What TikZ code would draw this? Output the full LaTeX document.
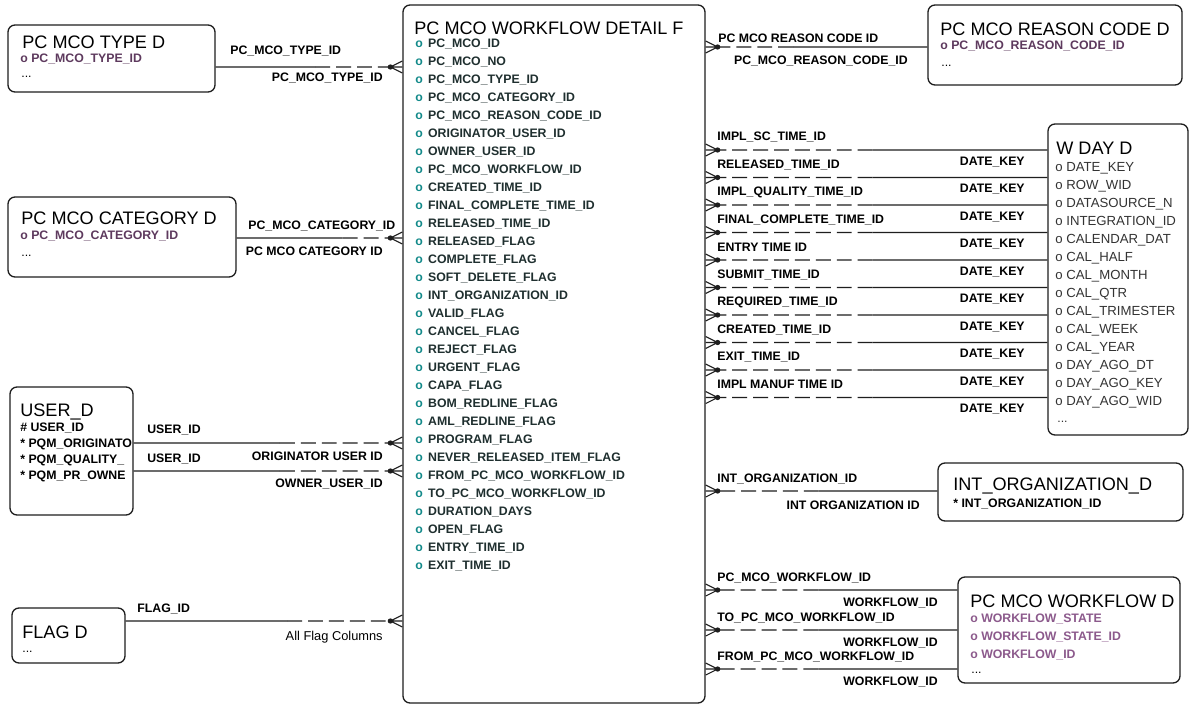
\documentclass[tikz,border=0pt]{standalone}
\usepackage{fontspec}
\setmainfont{Liberation Sans}
\usetikzlibrary{positioning,calc,fit}
\definecolor{edgeink}{HTML}{1E1E1E}
\definecolor{keyteal}{HTML}{138A8A}
\definecolor{colink}{HTML}{1F2F2F}
\definecolor{dimplum}{HTML}{5E3A5E}
\definecolor{softplum}{HTML}{8C5A8C}
\definecolor{dayink}{HTML}{333333}
\tikzset{
  tblbox/.style={draw=edgeink, line width=0.75pt, rounded corners=4pt, inner sep=0pt, fill=white},
  tblname/.style={anchor=west, inner sep=0pt, font=\fontsize{10.3}{12}\selectfont},
  colname/.style={anchor=west, inner sep=0pt, font=\fontsize{7}{8}\selectfont\bfseries},
  dayname/.style={anchor=west, inner sep=0pt, text=dayink, font=\fontsize{7.5}{9}\selectfont},
  lbl/.style={inner sep=0pt, font=\fontsize{7}{8}\selectfont\bfseries},
  rel/.style={draw=edgeink, line width=0.6pt},
  reldash/.style={rel, dash pattern=on 8.5pt off 3.4pt},
  crowfoot/.pic={\draw[rel] (0,-6) -- (-12,0) -- (0,6) (0,0) -- (-12,0);
    \fill[edgeink] (-12,0) circle (1.5pt);}
}
\newcommand\fk[3][0.5]{%
  \draw[rel] #2 -- ($#2!#1!#3$);
  \draw[reldash] ($#2!#1!#3$) -- #3;}

\begin{document}
\catcode`\_=12
\begin{tikzpicture}[x=0.02cm, y=-0.02cm]
  \fill[white] (0,0) rectangle (1196,706);
  \useasboundingbox (0,0) rectangle (1196,706);

  \node[tblbox, fit={(8,25) (215,92)}] (type) {};
  \node[tblbox, fit={(8,197) (236,277)}] (cat) {};
  \node[tblbox, fit={(10,387) (133,515)}] (user) {};
  \node[tblbox, fit={(12,608) (125,663)}] (flag) {};
  \node[tblbox, fit={(403,5) (705,703)}] (detail) {};
  \node[tblbox, fit={(928,5) (1182,85)}] (reason) {};
  \node[tblbox, fit={(1048,124) (1188,435)}] (wday) {};
  \node[tblbox, fit={(938,463) (1183,521)}] (intorg) {};
  \node[tblbox, fit={(958,577) (1180,683)}] (wflow) {};
  \coordinate (dl) at ([xshift=-0.24cm]detail.west);
  \coordinate (dr) at ([xshift=0.24cm]detail.east);

  \node[tblname] (typet) at (22,42) {PC MCO TYPE D};
  \node[colname, text=dimplum] (typea) at (20,59) {o PC_MCO_TYPE_ID};
  \node[colname, font=\fontsize{7}{8}\selectfont] (typee) at (21,77) {...};

  \node[tblname] (catt) at (21,218) {PC MCO CATEGORY D};
  \node[colname, text=dimplum] (cata) at (20,236) {o PC_MCO_CATEGORY_ID};
  \node[colname, font=\fontsize{7}{8}\selectfont] (cate) at (21,256) {...};

  \node[tblname] (usert) at (20,412) {USER_D};
  \begin{scope}
    \clip (user.north west) rectangle ([xshift=-0.6pt]user.south east);
    \node[colname] (usera) at (20,428) {\# USER_ID};
    \node[colname] (userb) at (20,444) {* PQM_ORIGINATO};
    \node[colname] (userc) at (20,460) {* PQM_QUALITY_};
    \node[colname] (userd) at (20,476) {* PQM_PR_OWNE};
  \end{scope}

  \node[tblname] (flagt) at (22,632) {FLAG D};
  \node[colname, font=\fontsize{7}{8}\selectfont] (flage) at (22,652) {...};

  \node[tblname] (detailt) at (414,28) {PC MCO WORKFLOW DETAIL F};
  \foreach \col [count=\i from 0] in {PC_MCO_ID, PC_MCO_NO, PC_MCO_TYPE_ID,
      PC_MCO_CATEGORY_ID, PC_MCO_REASON_CODE_ID, ORIGINATOR_USER_ID, OWNER_USER_ID,
      PC_MCO_WORKFLOW_ID, CREATED_TIME_ID, FINAL_COMPLETE_TIME_ID, RELEASED_TIME_ID,
      RELEASED_FLAG, COMPLETE_FLAG, SOFT_DELETE_FLAG, INT_ORGANIZATION_ID, VALID_FLAG,
      CANCEL_FLAG, REJECT_FLAG, URGENT_FLAG, CAPA_FLAG, BOM_REDLINE_FLAG,
      AML_REDLINE_FLAG, PROGRAM_FLAG, NEVER_RELEASED_ITEM_FLAG, FROM_PC_MCO_WORKFLOW_ID,
      TO_PC_MCO_WORKFLOW_ID, DURATION_DAYS, OPEN_FLAG, ENTRY_TIME_ID, EXIT_TIME_ID}
    \node[colname, text=colink] (d\i) at (415,44+18*\i) {\textcolor{keyteal}{o}\hspace{3pt}\col};

  \node[tblname] (reasont) at (940,29) {PC MCO REASON CODE D};
  \node[colname, text=dimplum] (reasona) at (940,46) {o PC_MCO_REASON_CODE_ID};
  \node[colname, font=\fontsize{7}{8}\selectfont] (reasone) at (941,66) {...};

  \node[tblname] (wdayt) at (1056,148) {W DAY D};
  \begin{scope}
    \clip (wday.north west) rectangle ([xshift=-0.6pt]wday.south east);
    \foreach \col [count=\i from 0] in {DATE_KEY, ROW_WID, DATASOURCE_N, INTEGRATION_ID,
        CALENDAR_DAT, CAL_HALF, CAL_MONTH, CAL_QTR, CAL_TRIMESTER, CAL_WEEK, CAL_YEAR,
        DAY_AGO_DT, DAY_AGO_KEY, DAY_AGO_WID}
      \node[dayname] (w\i) at (1055,168+18*\i) {o \col};
  \end{scope}
  \node[dayname, font=\fontsize{7}{8}\selectfont] (wdaye) at (1057,422) {...};

  \node[tblname] (intorgt) at (953,486) {INT_ORGANIZATION_D};
  \node[colname] (intorga) at (953,504) {* INT_ORGANIZATION_ID};

  \node[tblname] (wflowt) at (970,601) {PC MCO WORKFLOW D};
  \node[colname, text=softplum] (wflowa) at (970,619) {o WORKFLOW_STATE};
  \node[colname, text=softplum] (wflowb) at (970,637) {o WORKFLOW_STATE_ID};
  \node[colname, text=softplum] (wflowc) at (970,655) {o WORKFLOW_ID};
  \node[colname, font=\fontsize{7}{8}\selectfont] (wflowe) at (971,673) {...};

  \fk[0.57]{(type.east |- 0,67)}{(dl |- 0,67)}
  \pic at (detail.west |- 0,67) {crowfoot};
  \node[lbl, anchor=west] (typeup) at (230,51) {PC_MCO_TYPE_ID};
  \node[lbl, anchor=east] (typedn) at (383,78) {PC_MCO_TYPE_ID};

  \fk[0.69]{(cat.east |- 0,238)}{(dl |- 0,238)}
  \pic at (detail.west |- 0,238) {crowfoot};
  \node[lbl, anchor=west] (catup) at (248,226) {PC_MCO_CATEGORY_ID};
  \node[lbl, anchor=east] (catdn) at (383,251) {PC MCO CATEGORY ID};

  \fk[0.57]{(user.east |- 0,443)}{(dl |- 0,443)}
  \pic at (detail.west |- 0,443) {crowfoot};
  \node[lbl, anchor=west] (userup) at (147,430) {USER_ID};
  \node[lbl, anchor=east] (userdn) at (383,456) {ORIGINATOR USER ID};

  \fk[0.57]{(user.east |- 0,471)}{(dl |- 0,471)}
  \pic at (detail.west |- 0,471) {crowfoot};
  \node[lbl, anchor=west] (ownerup) at (147,459) {USER_ID};
  \node[lbl, anchor=east] (ownerdn) at (383,484) {OWNER_USER_ID};

  \fk[0.61]{(flag.east |- 0,621)}{(dl |- 0,621)}
  \pic at (detail.west |- 0,621) {crowfoot};
  \node[lbl, anchor=west] (flagup) at (137,609) {FLAG_ID};
  \node[lbl, anchor=east, font=\fontsize{7.3}{8}\selectfont] (flagdn) at (383,637) {All Flag Columns};

  \fk[0.64]{(reason.west |- 0,47)}{(dr |- 0,47)}
  \pic[rotate=180] at (detail.east |- 0,47) {crowfoot};
  \node[lbl, anchor=west] (reasonup) at (718,38) {PC MCO REASON CODE ID};
  \node[lbl, anchor=east] (reasondn) at (908,61) {PC_MCO_REASON_CODE_ID};

  \foreach \src [count=\k from 0] in {IMPL_SC_TIME_ID, RELEASED_TIME_ID,
      IMPL_QUALITY_TIME_ID, FINAL_COMPLETE_TIME_ID, ENTRY TIME ID, SUBMIT_TIME_ID,
      REQUIRED_TIME_ID, CREATED_TIME_ID, EXIT_TIME_ID, IMPL MANUF TIME ID} {
    \pgfmathsetmacro\yy{150+27.5*\k}
    \fk[0.53]{(wday.west |- 0,\yy)}{(dr |- 0,\yy)}
    \pic[rotate=180] at (detail.east |- 0,\yy) {crowfoot};
    \node[lbl, anchor=west] (ts\k) at (717,\yy-13) {\src};
    \node[lbl, anchor=east] (tk\k) at (1025,\yy+12) {DATE_KEY};
  }

  \fk[0.54]{(intorg.west |- 0,491)}{(dr |- 0,491)}
  \pic[rotate=180] at (detail.east |- 0,491) {crowfoot};
  \node[lbl, anchor=west] (intup) at (717,479) {INT_ORGANIZATION_ID};
  \node[lbl, anchor=east] (intdn) at (920,505) {INT ORGANIZATION ID};

  \foreach \src/\yy [count=\k] in {PC_MCO_WORKFLOW_ID/590, TO_PC_MCO_WORKFLOW_ID/630,
      FROM_PC_MCO_WORKFLOW_ID/669} {
    \fk[0.58]{(wflow.west |- 0,\yy)}{(dr |- 0,\yy)}
    \pic[rotate=180] at (detail.east |- 0,\yy) {crowfoot};
    \node[lbl, anchor=west] (ws\k) at (717,\yy-12) {\src};
    \node[lbl, anchor=east] (wk\k) at (938,\yy+13) {WORKFLOW_ID};
  }
\end{tikzpicture}
\end{document}
